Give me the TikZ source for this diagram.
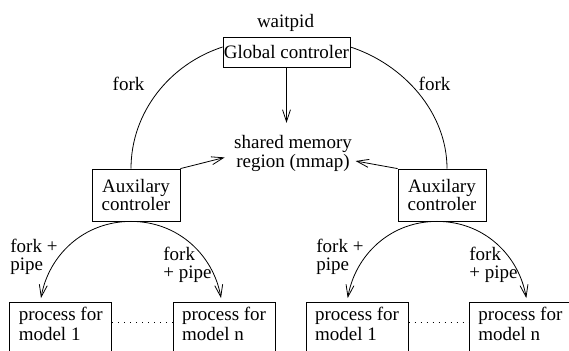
\documentclass[tikz,border=0pt]{standalone}
\usepackage{fontspec}
\setmainfont{Liberation Serif}
\usetikzlibrary{arrows.meta}
\tikzset{
    texte/.style={inner sep=0pt,font=\fontsize{19}{18}\selectfont},
    boite/.style={draw,rectangle,inner sep=0pt,align=center,font=\fontsize{19}{18}\selectfont},
    processus/.style={draw,rectangle,anchor=north west,align=left,minimum width=102pt,inner ysep=5pt,text height=33pt,text depth=25pt,font=\fontsize{19}{20}\selectfont},
    etiquette/.style={inner sep=0pt,anchor=north west,align=left,font=\fontsize{19}{18}\selectfont},
    fleche/.style={-{Straight Barb[length=12pt,width=8pt]}},
  }
\begin{document}
\begin{tikzpicture}[x=1pt,y=1pt,line width=0.8pt]
			          %cadre
			          \clip (0,0) rectangle (569,350);
				  
				  %GLOBAL
				  \node[texte,anchor=base] (W) at (285.5,322) {waitpid};
				  \node[boite,minimum width=127pt,minimum height=30pt] (G) at (286.5,298) {Global controler};
				  
				  %MEMOIRE PARTAGEE
				  \node[align=center,font=\fontsize{19}{15}\selectfont] (M) at (293,196.5) {shared memory\\region (mmap)};
				  \draw[fleche,shorten >=9pt] (G) -- (G |- M.north);
				  
				  %AUXILIAIRES A_1,A_2
				  \node[boite,minimum width=88pt,minimum height=52pt] (A_1) at (136,155) {Auxilary\\controler};
				  \node[boite,minimum width=88pt,minimum height=52pt] (A_2) at (442,155) {Auxilary\\controler};
				  \draw ([yshift=5pt]G.west) .. controls +(198:56) and +(90:56) .. ([xshift=-5pt]A_1.north);
				  \draw ([yshift=5pt]G.east) .. controls +(-18:56) and +(90:56) .. ([xshift=5pt]A_2.north);
				  \node[texte,anchor=base] (F_1) at (128.5,259) {fork};
				  \node[texte,anchor=base] (F_2) at (434.5,259) {fork};
				  \draw[fleche,shorten >=6pt] (A_1.north east) -- ([yshift=-2.5pt]M.west);
				  \draw[fleche] (A_2.north west) -- ([yshift=-7.5pt]M.east);
				  
				  %PROCESSUS P_1,P_n,Q_1,Q_n
				  \node[processus] (P_1) at (9.3,48) {process for\\model 1};
				  \node[processus] (P_n) at (172.7,48) {process for\\model n};
				  \node[processus] (Q_1) at (305.7,48) {process for\\model 1};
				  \node[processus] (Q_n) at (469,48) {process for\\model n};
				  \draw[dash pattern=on 1pt off 5pt] ([yshift=-20pt]P_1.north east) -- ([yshift=-20pt]P_n.north west);
				  \draw[dash pattern=on 1pt off 5pt] ([yshift=-20pt]Q_1.north east) -- ([yshift=-20pt]Q_n.north west);
				  
				  %FORK + PIPE
				  \draw[fleche,shorten >=4pt] ([xshift=-5pt]A_1.south) to[out=180,in=80] ([xshift=31pt]P_1.north west);
				  \draw[fleche,shorten >=4pt] ([xshift=-5pt]A_1.south) to[out=0,in=100] ([xshift=49pt]P_n.north west);
				  \draw[fleche,shorten >=4pt] ([xshift=-5pt]A_2.south) to[out=180,in=80] ([xshift=41.3pt]Q_1.north west);
				  \draw[fleche,shorten >=4pt] ([xshift=-5pt]A_2.south) to[out=0,in=100] ([xshift=58pt]Q_n.north west);
				  \node[etiquette] (E_1) at (10,111.3) {fork +\\pipe};
				  \node[etiquette] (E_2) at (163,103) {fork\\+ pipe};
				  \node[etiquette] (E_3) at (316,111.3) {fork +\\pipe};
				  \node[etiquette] (E_4) at (469,103) {fork\\+ pipe};
				  \end{tikzpicture}
\end{document}
